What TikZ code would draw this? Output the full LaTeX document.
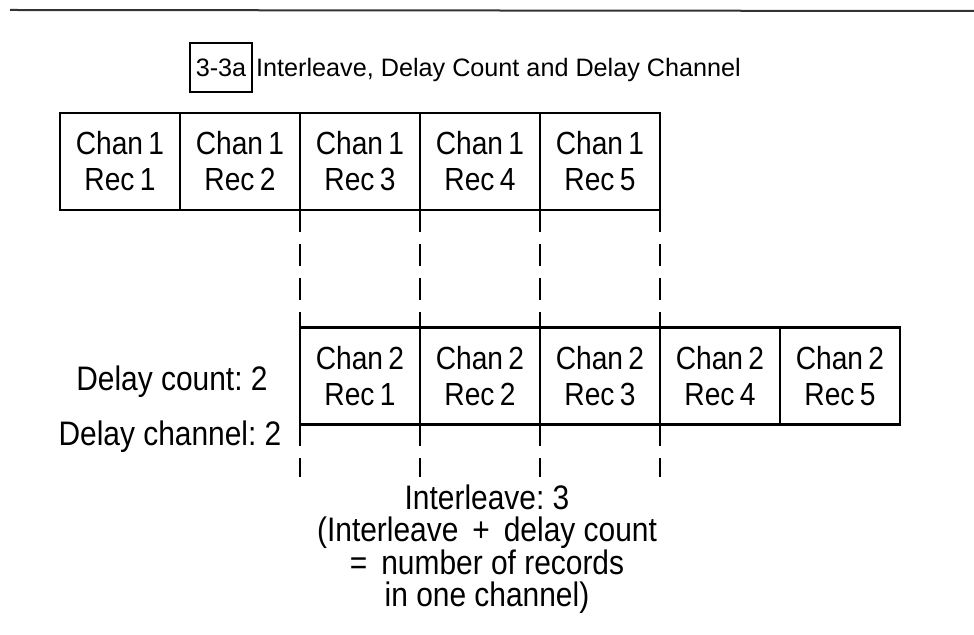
\documentclass[tikz,border=0pt]{standalone}
\usepackage{fontspec}
\setmainfont{Liberation Sans}[FakeStretch=0.88]
\newfontfamily\titlefont{Liberation Sans}
\usetikzlibrary{positioning}
\frenchspacing

\begin{document}
\begin{tikzpicture}[x=0.5pt, y=-0.5pt,
    rec/.style={draw, line width=1.2pt, minimum width=60pt, minimum height=48.5pt,
        inner sep=0pt, outer sep=0pt, align=center, font=\fontsize{16}{18}\selectfont},
    guide/.style={line width=1.2pt, dash pattern=on 11pt off 6pt},
    lbl/.style={font=\fontsize{17}{20}\selectfont}]
    \useasboundingbox (0,0) rectangle (974,635);

    % Rule at the top of the page
    \draw[line width=1pt, black!80] (10,10) -- (974,11);

    % Figure number and title
    \node[draw, line width=0.8pt, minimum width=31pt, minimum height=24.5pt, inner sep=0pt,
        font=\titlefont\fontsize{12.6}{15}\selectfont] (fig) at (221,67.5) {3-3a};
    \node[anchor=base west, inner sep=0pt, font=\titlefont\fontsize{12.6}{15}\selectfont]
        (title) at ([xshift=1.5pt]fig.base east) {Interleave, Delay Count and Delay Channel};

    % Channel 1 records
    \foreach \i in {1,...,5} {
        \node[rec] (c1r\i) at ({120*\i}, 161.5) {Chan\,1\\Rec\,\i};
    }

    % Channel 2 records, shifted by the interleave
    \foreach \i in {1,...,5} {
        \node[rec] (c2r\i) at ({240+120*\i}, 376) {Chan\,2\\Rec\,\i};
    }

    \node[lbl] (dcount) at (172,382) {Delay count: 2};
    \node[lbl] (dchan) at (170,437) {Delay channel: 2};

    % Guides between the rows
    \foreach \k/\j in {3/1,4/2,5/3} {
        \draw[guide] (c1r\k.south west) -- (c2r\j.north west);
    }
    \draw[guide] (c1r5.south east) -- (c2r3.north east);

    % Guides below channel 2
    \foreach \j in {1,...,4} {
        \path (c2r\j.south west) ++(0,53) coordinate (end\j);
        \draw[guide] (c2r\j.south west) -- (end\j);
    }

    \node[align=center, font=\fontsize{17}{16.2}\selectfont] (note) at (487,549)
        {Interleave: 3\\(Interleave \,+\, delay count\\=\, number of records\\in one channel)};
\end{tikzpicture}
\end{document}
